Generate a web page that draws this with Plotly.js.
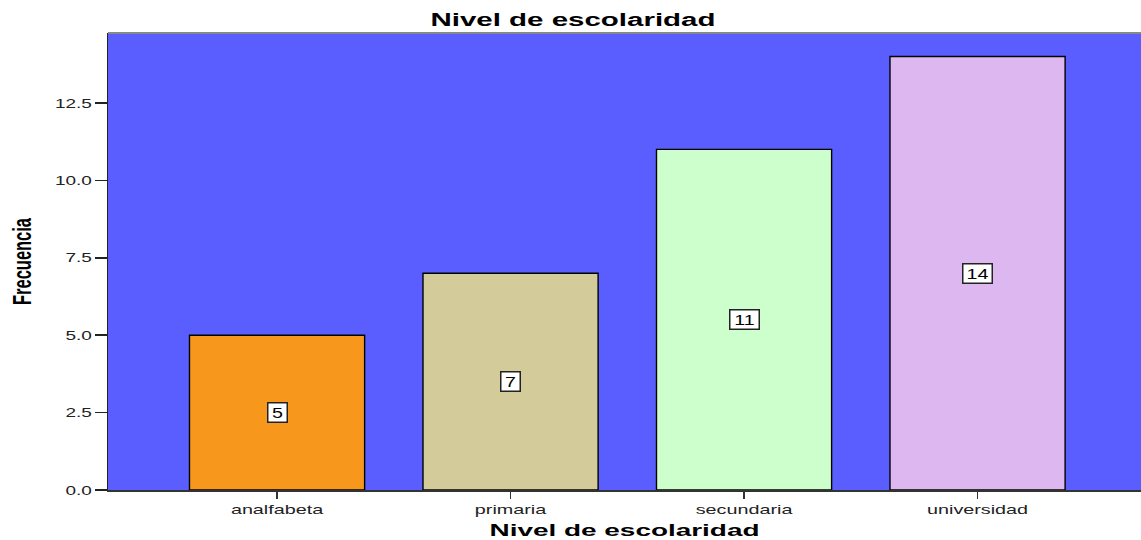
<!DOCTYPE html>
<html>
<head>
<meta charset="utf-8">
<script src="https://cdn.plot.ly/plotly-3.0.1.min.js"></script>
<style>html,body{margin:0;padding:0;background:#fff;}#chart{width:1141px;height:540px;}</style>
</head>
<body>
<div id="chart"></div>
<script>
var categories = ["analfabeta", "primaria", "secundaria", "universidad"];
var frecuencias = [5, 7, 11, 14];
var barColors = ["#F7981D", "#D3CC9A", "#CCFFCC", "#DDB8F0"];
var yTickVals = [0, 2.5, 5, 7.5, 10, 12.5];
var yTickText = ["0.0", "2.5", "5.0", "7.5", "10.0", "12.5"];

var FONT = "Liberation Sans, Arial, sans-serif";

var trace = {
  type: "bar",
  x: categories,
  y: frecuencias,
  width: 0.75,
  marker: {color: barColors, line: {color: "#000000", width: 1.4}},
  hoverinfo: "x+y"
};

var annotations = categories.map(function(c, i) {
  var s = String(frecuencias[i]);
  return {
    x: c, y: frecuencias[i] / 2, xref: "x", yref: "y",
    text: s, showarrow: false,
    width: s.length > 1 ? 26 : 16, height: 16,
    bgcolor: "#ffffff", bordercolor: "#222222", borderwidth: 1.5, borderpad: 1,
    font: {family: FONT, size: 14, color: "#000"}
  };
});

var layout = {
  width: 1141, height: 540,
  margin: {l: 108, r: 0, t: 33, b: 50},
  paper_bgcolor: "#ffffff",
  plot_bgcolor: "#5B5EFF",
  showlegend: false,
  title: {
    text: "Nivel de escolaridad",
    font: {family: FONT, size: 18, color: "#000", weight: "bold"},
    x: 573 / 1141, xref: "container", xanchor: "center",
    y: 0.964, yref: "container", yanchor: "middle"
  },
  xaxis: {
    type: "category",
    range: [-0.724, 3.70],
    showgrid: false, zeroline: false,
    showline: true, linecolor: "#333", linewidth: 1.5,
    ticks: "outside", ticklen: 7, tickcolor: "#333", tickwidth: 1.5,
    tickfont: {family: FONT, size: 13, color: "#222"},
    title: {
      text: "Nivel de escolaridad",
      font: {family: FONT, size: 17, color: "#000", weight: "bold"},
      standoff: 12
    }
  },
  yaxis: {
    range: [0, 14.76],
    tickvals: yTickVals, ticktext: yTickText,
    showgrid: false, zeroline: false,
    showline: true, linecolor: "#222", linewidth: 1.5,
    ticks: "outside", ticklen: 12, tickcolor: "#222", tickwidth: 1.5,
    tickfont: {family: FONT, size: 13, color: "#222"},
    title: {
      text: "Frecuencia",
      font: {family: FONT, size: 16.5, color: "#000", weight: "bold"},
      standoff: 31
    }
  },
  annotations: annotations,
  shapes: [{
    type: "line", xref: "paper", yref: "paper", x0: 0, x1: 1, y0: 1, y1: 1,
    line: {color: "#888", width: 2}
  }]
};

function stretch(el, factor, target) {
  var len = el.getComputedTextLength();
  if (!len) return;
  el.setAttribute("textLength", String(target ? target : len * factor));
  el.setAttribute("lengthAdjust", "spacingAndGlyphs");
}

Plotly.newPlot("chart", [trace], layout, {displayModeBar: false, staticPlot: true}).then(function(gd) {
  var root = gd;
  var t = root.querySelector(".gtitle");
  if (t) stretch(t, 1, 285);
  var xt = root.querySelector(".xtitle");
  if (xt) stretch(xt, 1, 270);
  root.querySelectorAll(".xtick text").forEach(function(el) { stretch(el, 1.52); });
  root.querySelectorAll(".ytick text").forEach(function(el) { stretch(el, 1.46); });
  root.querySelectorAll(".annotation-text").forEach(function(el) { stretch(el, 1.4); });
  var yt = root.querySelector(".ytitle");
  if (yt) {
    var x = parseFloat(yt.getAttribute("x")), y = parseFloat(yt.getAttribute("y"));
    var tr = yt.getAttribute("transform") || "";
    yt.setAttribute("transform", "translate(" + x + "," + y + ") scale(1.6,1) translate(" + (-x) + "," + (-y) + ") " + tr);
  }
});
</script>
</body>
</html>
